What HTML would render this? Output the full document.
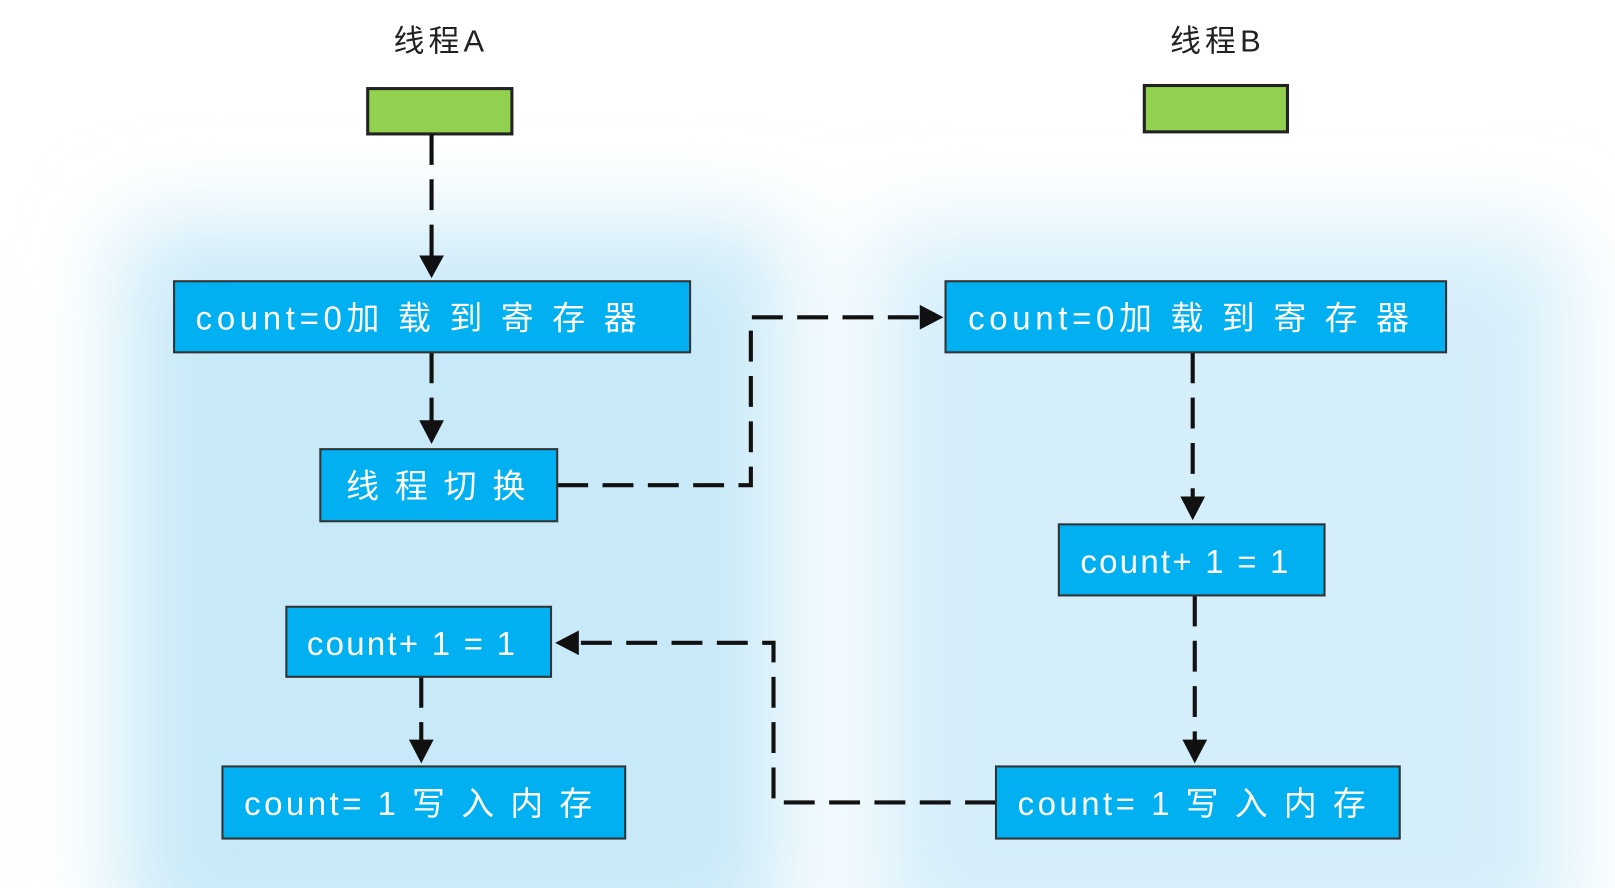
<!DOCTYPE html>
<html><head><meta charset="utf-8"><style>
html,body{margin:0;padding:0;background:#fff;overflow:hidden;width:1615px;height:888px;}
svg{display:block;}
text{font-family:"Liberation Sans","Noto Sans CJK SC",sans-serif;}
</style></head><body>
<svg width="1615" height="888" viewBox="0 0 1568 862" preserveAspectRatio="none" xmlns="http://www.w3.org/2000/svg">
<defs>
<filter id="b" x="-30%" y="-30%" width="160%" height="160%"><feGaussianBlur stdDeviation="45"/></filter>
</defs>
<rect x="0" y="0" width="1568" height="862" fill="#fff"/>
<g filter="url(#b)">
<rect x="120" y="220" width="640" height="700" fill="#c8e9f8"/>
<rect x="850" y="225" width="670" height="700" fill="#d4eefa"/>
</g>
<g fill="#222">
<text x="428" y="50" font-size="30" text-anchor="middle" letter-spacing="4">线程A</text>
<text x="1182" y="50" font-size="30" text-anchor="middle" letter-spacing="4">线程B</text>
</g>
<rect x="357" y="86" width="140" height="44" fill="#92d050" stroke="#222" stroke-width="3"/>
<rect x="1111" y="83" width="139" height="45" fill="#92d050" stroke="#222" stroke-width="3"/>
<g stroke="#111" stroke-width="4" fill="none" stroke-dasharray="30 14">
<path d="M419 130 V250"/>
<path d="M419 342 V410"/>
<path d="M541 471 H729 V308 H895"/>
<path d="M1158 342 V484"/>
<path d="M1160 578 V720"/>
<path d="M967 779 H751 V624 H560"/>
<path d="M409 657 V720"/>
</g>
<g fill="#111">
<polygon points="407,248 431,248 419,270"/>
<polygon points="407,408 431,408 419,431"/>
<polygon points="893,296 893,320 916,308"/>
<polygon points="1146,482 1170,482 1158,505"/>
<polygon points="1148,718 1172,718 1160,741"/>
<polygon points="562,612 562,636 539,624"/>
<polygon points="397,718 421,718 409,741"/>
</g>
<g fill="#00b0f0" stroke="#333" stroke-width="2">
<rect x="169" y="273" width="501" height="69"/>
<rect x="311" y="436" width="230" height="70"/>
<rect x="278" y="589" width="257" height="68"/>
<rect x="216" y="744" width="391" height="70"/>
<rect x="918" y="273" width="486" height="69"/>
<rect x="1028" y="509" width="258" height="69"/>
<rect x="967" y="744" width="392" height="70"/>
</g>
<g fill="#fff" font-size="32">
<text x="190" y="320" textLength="428" lengthAdjust="spacing">count=0加 载 到 寄 存 器</text>
<text x="336" y="483" textLength="174" lengthAdjust="spacing">线 程 切 换</text>
<text x="298" y="636" textLength="202" lengthAdjust="spacing">count+ 1 = 1</text>
<text x="237" y="791" textLength="338" lengthAdjust="spacing">count= 1 写 入 内 存</text>
<text x="940" y="320" textLength="428" lengthAdjust="spacing">count=0加 载 到 寄 存 器</text>
<text x="1049" y="556" textLength="202" lengthAdjust="spacing">count+ 1 = 1</text>
<text x="988" y="791" textLength="338" lengthAdjust="spacing">count= 1 写 入 内 存</text>
</g>
</svg>
</body></html>
